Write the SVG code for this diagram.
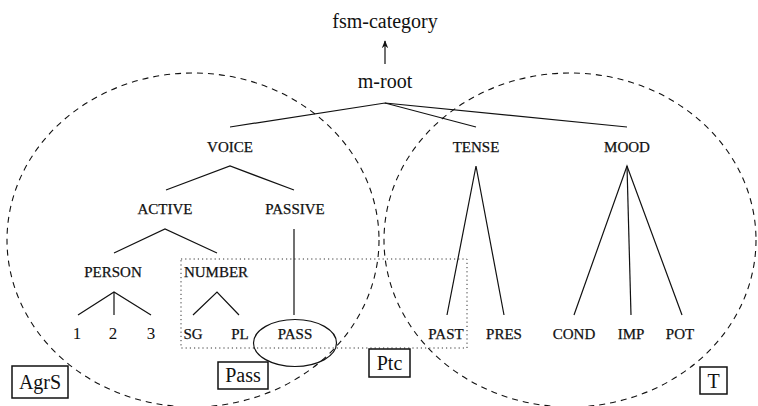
<svg xmlns="http://www.w3.org/2000/svg" width="758" height="406" viewBox="0 0 758 406">
<style>
text{fill:#111;text-anchor:middle}
.big{font-size:20px}
.sc{font-size:15px;stroke:#111;stroke-width:0.25}
.num{font-size:17px}
.edge{stroke:#111;stroke-width:1.2;fill:none}
.region{stroke:#111;stroke-width:1.1;fill:none;stroke-dasharray:6 5}
.box{stroke:#111;stroke-width:1.5;fill:#fff}
</style>
<defs>
<marker id="arr" viewBox="0 0 10 10" refX="9" refY="5" markerWidth="8" markerHeight="8" markerUnits="userSpaceOnUse" orient="auto">
<path d="M0,1 L10,5 L0,9 L3,5 Z" fill="#111"/>
</marker>
</defs>
<g id="regions">
<ellipse id="region-agrs" class="region" cx="193" cy="240" rx="186" ry="167"/>
<ellipse id="region-t" class="region" cx="570" cy="240" rx="186" ry="167"/>
<rect id="region-ptc" x="181" y="259" width="286" height="89" fill="none" stroke="#333" stroke-width="1" stroke-dasharray="1.2 3"/>
<ellipse id="region-pass" cx="295" cy="343" rx="41.5" ry="23.5" fill="none" stroke="#111" stroke-width="1.2"/>
</g>
<g id="connectors">
<line class="edge" x1="385" y1="64" x2="385" y2="41" marker-end="url(#arr)"/>
<polyline class="edge" points="230,127 385,103 476,127"/>
<line class="edge" x1="385" y1="103" x2="627" y2="127"/>
<polyline class="edge" points="166,190 230,166 294,190"/>
<polyline class="edge" points="114,253 165,229 217,253"/>
<line class="edge" x1="294" y1="229" x2="294" y2="315"/>
<polyline class="edge" points="78,315 114,292 151,315"/>
<line class="edge" x1="114" y1="292" x2="114" y2="315"/>
<polyline class="edge" points="193,315 217,292 239,315"/>
<polyline class="edge" points="447,315 476,166 504,315"/>
<polyline class="edge" points="574,315 627,166 682,315"/>
<line class="edge" x1="627" y1="166" x2="631" y2="315"/>
</g>
<g id="fsm-category"><text font-family="'Liberation Serif', serif" class="big" x="385" y="28">fsm-category</text></g>
<g id="m-root"><text font-family="'Liberation Serif', serif" class="big" x="385" y="88">m-root</text></g>
<g id="voice"><text font-family="'Liberation Serif', serif" class="sc" x="230" y="152">VOICE</text></g>
<g id="tense"><text font-family="'Liberation Serif', serif" class="sc" x="476" y="152">TENSE</text></g>
<g id="mood"><text font-family="'Liberation Serif', serif" class="sc" x="627" y="152">MOOD</text></g>
<g id="active"><text font-family="'Liberation Serif', serif" class="sc" x="165" y="214">ACTIVE</text></g>
<g id="passive"><text font-family="'Liberation Serif', serif" class="sc" x="295" y="214">PASSIVE</text></g>
<g id="person"><text font-family="'Liberation Serif', serif" class="sc" x="113" y="277">PERSON</text></g>
<g id="number"><text font-family="'Liberation Serif', serif" class="sc" x="216" y="277">NUMBER</text></g>
<g id="n1"><text font-family="'Liberation Serif', serif" class="num" x="77" y="339">1</text></g>
<g id="n2"><text font-family="'Liberation Serif', serif" class="num" x="113" y="339">2</text></g>
<g id="n3"><text font-family="'Liberation Serif', serif" class="num" x="151" y="339">3</text></g>
<g id="sg"><text font-family="'Liberation Serif', serif" class="sc" x="193" y="339">SG</text></g>
<g id="pl"><text font-family="'Liberation Serif', serif" class="sc" x="240" y="339">PL</text></g>
<g id="pass"><text font-family="'Liberation Serif', serif" class="sc" x="295" y="339">PASS</text></g>
<g id="past"><text font-family="'Liberation Serif', serif" class="sc" x="446" y="339">PAST</text></g>
<g id="pres"><text font-family="'Liberation Serif', serif" class="sc" x="504" y="339">PRES</text></g>
<g id="cond"><text font-family="'Liberation Serif', serif" class="sc" x="574" y="339">COND</text></g>
<g id="imp"><text font-family="'Liberation Serif', serif" class="sc" x="631" y="339">IMP</text></g>
<g id="pot"><text font-family="'Liberation Serif', serif" class="sc" x="680" y="339">POT</text></g>
<g id="label-agrs"><rect class="box" x="12" y="366" width="56" height="32"/><text font-family="'Liberation Serif', serif" class="big" x="40" y="389">AgrS</text></g>
<g id="label-pass"><rect class="box" x="218" y="362" width="50" height="27"/><text font-family="'Liberation Serif', serif" class="big" x="243" y="382">Pass</text></g>
<g id="label-ptc"><rect class="box" x="369" y="349" width="41" height="28"/><text font-family="'Liberation Serif', serif" class="big" x="389.5" y="370">Ptc</text></g>
<g id="label-t"><rect class="box" x="700" y="367" width="27" height="27"/><text font-family="'Liberation Serif', serif" class="big" x="713.5" y="388">T</text></g>
</svg>
